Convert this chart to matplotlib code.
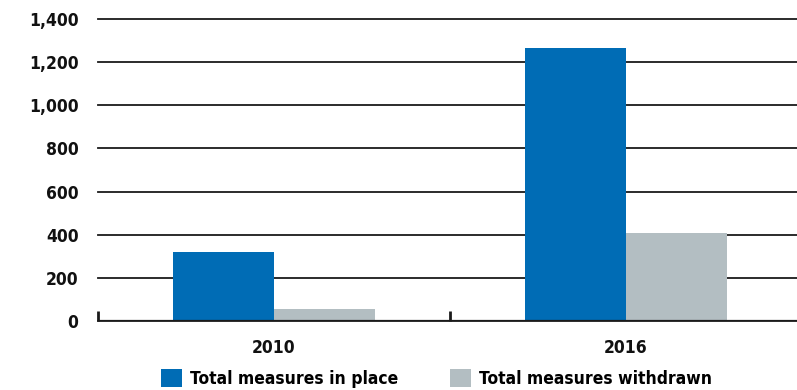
import matplotlib
matplotlib.use("Agg")
import matplotlib.pyplot as plt
import numpy as np
from matplotlib.patches import Patch
from matplotlib.ticker import FuncFormatter, FixedLocator
from matplotlib.font_manager import FontProperties

years = ["2010", "2016"]
in_place = [322, 1265]
withdrawn = [54, 408]
series_labels = ["Total measures in place", "Total measures withdrawn"]
y_ticks = [0, 200, 400, 600, 800, 1000, 1200, 1400]

BLUE = "#006cb5"
GREY = "#b3bec2"
INK = "#1a1a1a"

font = dict(family="DejaVu Sans", weight="bold", stretch="condensed", size=12.5)

W, H = 797, 390
fig = plt.figure(figsize=(W / 100, H / 100), dpi=100)
ax = fig.add_axes([98 / W, (H - 321) / H, 704 / W, 302 / H])

x = np.arange(len(years))
bw = 0.287
ax.bar(x - bw / 2, in_place, width=bw, color=BLUE, zorder=2)
ax.bar(x + bw / 2, withdrawn, width=bw, color=GREY, zorder=2)

ax.set_xlim(-0.5, 1.5)
ax.set_ylim(0, 1400)

# horizontal rules
ax.set_yticks(y_ticks)
ax.yaxis.set_major_formatter(FuncFormatter(lambda v, p: f"{int(v):,}"))
ax.yaxis.grid(True, color=INK, linewidth=1.3, zorder=1)
for gl in ax.get_ygridlines():
    gl.set_clip_on(False)
ax.set_axisbelow(True)
ax.axhline(0, color=INK, linewidth=1.6, zorder=3)
ax.tick_params(axis="y", length=0, pad=14)

# category labels with separators between groups
ax.set_xticks(x)
ax.set_xticklabels(years)
ax.xaxis.set_minor_locator(FixedLocator([-0.5, 0.5, 1.5]))
ax.tick_params(axis="x", which="major", length=0, pad=13)
ax.tick_params(axis="x", which="minor", direction="in", length=7, width=2, color=INK)

for lab in ax.get_yticklabels() + ax.get_xticklabels():
    lab.set_fontproperties(FontProperties(**font))
    lab.set_color("#111111")

for s in ax.spines.values():
    s.set_visible(False)

handles = [Patch(facecolor=BLUE, edgecolor="none"), Patch(facecolor=GREY, edgecolor="none")]
leg = fig.legend(handles, series_labels, loc="center left",
                 bbox_to_anchor=(161 / W, (H - 378.5) / H),
                 ncol=2, frameon=False, borderpad=0, borderaxespad=0,
                 handlelength=1.2, handleheight=1.2, handletextpad=0.45,
                 columnspacing=3.0,
                 prop=FontProperties(**font))

fig.savefig("out.png", dpi=100)
